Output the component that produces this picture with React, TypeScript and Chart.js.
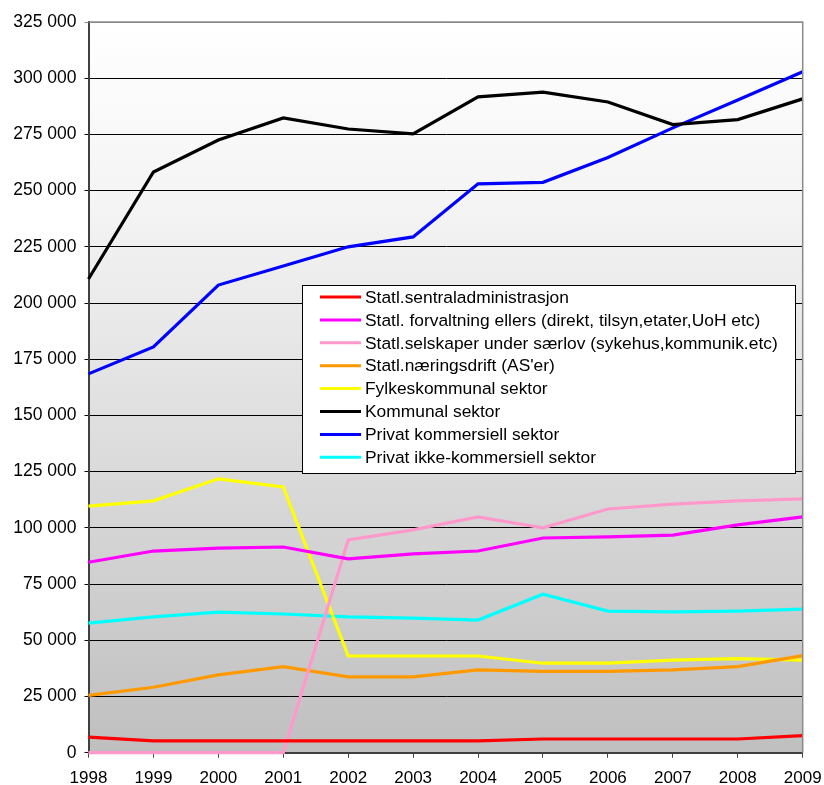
import React, { useEffect, useRef } from "react";
import { Chart, registerables } from "chart.js";

Chart.register(...registerables);

const years = ["1998", "1999", "2000", "2001", "2002", "2003", "2004", "2005", "2006", "2007", "2008", "2009"];

const seriesNames = [
  "Statl.sentraladministrasjon",
  "Statl. forvaltning ellers (direkt, tilsyn,etater,UoH etc)",
  "Statl.selskaper under særlov (sykehus,kommunik.etc)",
  "Statl.næringsdrift (AS'er)",
  "Fylkeskommunal sektor",
  "Kommunal sektor",
  "Privat kommersiell sektor",
  "Privat ikke-kommersiell sektor",
];

const seriesColors = ["#ff0000", "#ff00ff", "#ff99cc", "#ff9900", "#ffff00", "#000000", "#0000ff", "#00ffff"];

const sentraladm = [6900, 5300, 5300, 5300, 5300, 5300, 5300, 6100, 6100, 6100, 6100, 7600];
const forvaltning = [84700, 89700, 91000, 91500, 86200, 88400, 89700, 95500, 96000, 96800, 101300, 104900];
const selskaper = [0, 0, 0, 0, 94600, 99100, 104900, 100000, 108400, 110600, 112000, 112900];
const naeringsdrift = [25500, 29100, 34600, 38300, 33700, 33700, 36800, 36200, 36200, 36800, 38300, 43200];
const fylkeskommunal = [109700, 112000, 121800, 118200, 43000, 43000, 43000, 39800, 39800, 41200, 41800, 41200];
const kommunal = [210700, 258300, 272500, 282300, 277400, 275200, 291700, 293800, 289400, 279400, 281600, 290800];
const privatKommersiell = [168500, 180500, 208000, 216500, 225000, 229400, 253000, 253700, 264700, 277900, 290300, 302900];
const privatIkkeKommersiell = [57600, 60400, 62500, 61700, 60400, 59900, 59000, 70500, 63000, 62600, 63000, 63900];

const seriesValues = [sentraladm, forvaltning, selskaper, naeringsdrift, fylkeskommunal, kommunal, privatKommersiell, privatIkkeKommersiell];

const yMin = 0;
const yMax = 325000;
const yStep = 25000;

const FONT = "Arial, 'Liberation Sans', sans-serif";

function fmt(v: number): string {
  return String(Math.round(v)).replace(/\B(?=(\d{3})+(?!\d))/g, " ");
}

const backgroundPlugin = {
  id: "bgGradient",
  beforeDraw(chart: any) {
    const { ctx, chartArea } = chart;
    const g = ctx.createLinearGradient(0, chartArea.top, 0, chartArea.bottom);
    g.addColorStop(0, "#ffffff");
    g.addColorStop(0.25, "#f4f4f4");
    g.addColorStop(1, "#bfbfbf");
    ctx.save();
    ctx.fillStyle = g;
    ctx.fillRect(chartArea.left, chartArea.top, chartArea.right - chartArea.left, chartArea.bottom - chartArea.top);
    ctx.restore();
  },
  afterDatasetsDraw(chart: any) {
    const { ctx, chartArea } = chart;
    ctx.save();
    ctx.strokeStyle = "#8a8a8a";
    ctx.lineWidth = 1.5;
    ctx.beginPath();
    ctx.moveTo(chartArea.left, chartArea.top);
    ctx.lineTo(chartArea.right, chartArea.top);
    ctx.lineTo(chartArea.right, chartArea.bottom);
    ctx.stroke();
    ctx.restore();
  },
};

const legendPlugin = {
  id: "floatLegend",
  afterDraw(chart: any) {
    const { ctx, chartArea } = chart;
    const left = chartArea.left + 213.5;
    const top = chartArea.top + 263;
    const w = 493;
    const h = 188;
    ctx.save();
    ctx.fillStyle = "#ffffff";
    ctx.fillRect(left, top, w, h);
    ctx.strokeStyle = "#000000";
    ctx.lineWidth = 1;
    ctx.strokeRect(left + 0.5, top + 0.5, w, h);
    ctx.font = `17.4px ${FONT}`;
    ctx.textBaseline = "middle";
    ctx.textAlign = "left";
    chart.data.datasets.forEach((ds: any, i: number) => {
      const cy = top + 12 + i * 22.9;
      ctx.strokeStyle = ds.borderColor;
      ctx.lineWidth = 3;
      ctx.beginPath();
      ctx.moveTo(left + 18, cy);
      ctx.lineTo(left + 59, cy);
      ctx.stroke();
      ctx.fillStyle = "#000000";
      ctx.fillText(ds.label, left + 63, cy + 1);
    });
    ctx.restore();
  },
};

export default function App() {
  const ref = useRef<HTMLCanvasElement | null>(null);

  useEffect(() => {
    if (!ref.current) return;
    const chart = new Chart(ref.current, {
      type: "line",
      data: {
        labels: years,
        datasets: seriesNames.map((name, i) => ({
          label: name,
          data: seriesValues[i],
          borderColor: seriesColors[i],
          backgroundColor: seriesColors[i],
          borderWidth: 3.2,
          pointRadius: 0,
          pointHoverRadius: 0,
          tension: 0,
          fill: false,
          clip: false as any,
        })),
      },
      options: {
        animation: false,
        responsive: false,
        maintainAspectRatio: false,
        events: [],
        layout: { padding: { left: 0, top: 22, right: 21.3, bottom: 0 } },
        plugins: {
          legend: { display: false },
          tooltip: { enabled: false },
          title: { display: false },
        },
        scales: {
          x: {
            type: "category",
            offset: false,
            afterFit(scale: any) {
              scale.height = 32.3;
              scale.paddingLeft = 0;
              scale.paddingRight = 0;
            },
            grid: {
              drawOnChartArea: false,
              drawTicks: true,
              tickLength: 5,
              color: "#404040",
              lineWidth: 1,
            },
            border: { display: true, color: "#404040", width: 2 },
            ticks: {
              color: "#000000",
              font: { family: FONT, size: 17 },
              padding: 10,
              maxRotation: 0,
              autoSkip: false,
            },
          },
          y: {
            min: yMin,
            max: yMax,
            afterFit(scale: any) {
              scale.width = 88.5;
              scale.paddingTop = 0;
              scale.paddingBottom = 0;
            },
            ticks: {
              stepSize: yStep,
              color: "#000000",
              font: { family: FONT, size: 17.5 },
              padding: 8,
              callback: (v: any) => fmt(Number(v)),
            },
            grid: {
              color: (c: any) => (c.tick && c.tick.value === yMax ? "#8a8a8a" : "#000000"),
              lineWidth: 1,
              tickLength: 4,
              drawTicks: true,
            },
            border: { display: true, color: "#404040", width: 2 },
          },
        },
      },
      plugins: [backgroundPlugin, legendPlugin],
    });
    return () => chart.destroy();
  }, []);

  return (
    <div style={{ position: "absolute", left: 0, top: 0, width: 824, height: 785, background: "#ffffff" }}>
      <canvas ref={ref} width={824} height={785} style={{ display: "block", width: 824, height: 785 }} />
    </div>
  );
}
